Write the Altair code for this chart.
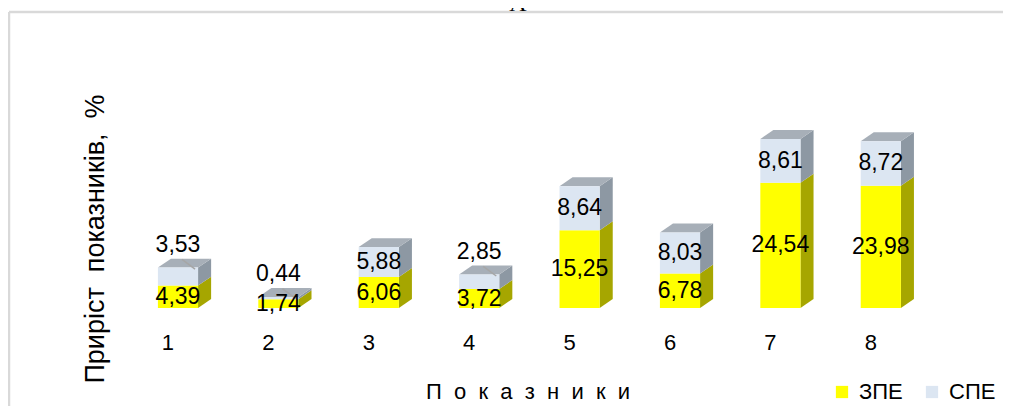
import altair as alt
import pandas as pd

categories = [1, 2, 3, 4, 5, 6, 7, 8]
zpe = [4.39, 1.74, 6.06, 3.72, 15.25, 6.78, 24.54, 23.98]
spe = [3.53, 0.44, 5.88, 2.85, 8.64, 8.03, 8.61, 8.72]
series_names = ["ЗПЕ", "СПЕ"]
cat_labels = ["1", "2", "3", "4", "5", "6", "7", "8"]
chart_title = "А"
NB = "\u00a0"
y_title = f"Приріст{NB}{NB}показників,{NB}{NB}%"
x_title = (NB + NB).join(list("Показники"))

FONT = "Liberation Sans"
W, H = 995, 398
HALF = 0.2      # half front width (x units)
DX = 0.13       # depth in x units
DY = 1.76       # depth in y units

df = pd.DataFrame({"cat": categories, "zpe": zpe, "spe": spe, "lab": cat_labels})

xs = alt.Scale(domain=[-0.693, 9.217], nice=False, zero=False)
ys = alt.Scale(domain=[-19.216, 58.824], nice=False, zero=False)

base = alt.Chart(df).transform_calculate(total="datum.zpe + datum.spe")

edges = base.transform_calculate(e0="0", e1="1").transform_fold(["e0", "e1"], as_=["edge", "t"])

side_y = edges.transform_calculate(
    sx=f"datum.cat + {HALF} + datum.t * {DX}",
    sy0=f"datum.t * {DY}",
    sy1=f"datum.zpe + datum.t * {DY}",
).mark_area(color="#a6a600", orient="vertical").encode(
    x=alt.X("sx:Q", scale=xs, axis=None),
    y=alt.Y("sy0:Q", scale=ys, axis=None),
    y2="sy1:Q",
    detail="cat:N",
)

side_b = edges.transform_calculate(
    sx=f"datum.cat + {HALF} + datum.t * {DX}",
    sy0=f"datum.zpe + datum.t * {DY}",
    sy1=f"datum.total + datum.t * {DY}",
).mark_area(color="#8d98a3", orient="vertical").encode(
    x=alt.X("sx:Q", scale=xs, axis=None),
    y=alt.Y("sy0:Q", scale=ys, axis=None),
    y2="sy1:Q",
    detail="cat:N",
)

top = edges.transform_calculate(
    ty=f"datum.total + datum.t * {DY}",
    tx0=f"datum.cat - {HALF} + datum.t * {DX}",
    tx1=f"datum.cat + {HALF} + datum.t * {DX}",
).mark_area(color="#a7afb8", orient="horizontal").encode(
    y=alt.Y("ty:Q", scale=ys, axis=None),
    x=alt.X("tx0:Q", scale=xs, axis=None),
    x2="tx1:Q",
    detail="cat:N",
)

front = base.transform_fold(["zpe", "spe"], as_=["key", "val"]).transform_calculate(
    series=f"datum.key == 'zpe' ? '{series_names[0]}' : '{series_names[1]}'",
    y0="datum.key == 'zpe' ? 0 : datum.zpe",
    y1="datum.key == 'zpe' ? datum.zpe : datum.zpe + datum.spe",
    xl=f"datum.cat - {HALF}",
    xr=f"datum.cat + {HALF}",
).mark_rect().encode(
    x=alt.X("xl:Q", scale=xs, axis=None),
    x2="xr:Q",
    y=alt.Y("y0:Q", scale=ys, axis=None),
    y2="y1:Q",
    color=alt.Color(
        "series:N",
        scale=alt.Scale(domain=series_names, range=["#ffff00", "#dce6f2"]),
        legend=alt.Legend(
            title=None, orient="none", legendX=823, legendY=373, direction="horizontal",
            symbolType="square", symbolSize=150, symbolStrokeWidth=0,
            labelFont=FONT, labelFontSize=22, labelColor="#000000",
            labelOffset=6, columnPadding=18, padding=0,
        ),
    ),
)

lab_fmt = "replace(format(datum.v, '.2f'), '.', ',')"

lab_z = base.transform_calculate(
    v="datum.zpe", ly="datum.zpe / 2", txt=lab_fmt
).mark_text(font=FONT, fontSize=23, color="#000000", baseline="middle").encode(
    x=alt.X("cat:Q", scale=xs, axis=None),
    y=alt.Y("ly:Q", scale=ys, axis=None),
    text="txt:N",
)

lab_s = base.transform_calculate(
    v="datum.spe",
    ly="datum.spe < 4 ? datum.total + 4.5 : datum.zpe + datum.spe / 2",
    txt=lab_fmt,
).mark_text(font=FONT, fontSize=23, color="#000000", baseline="middle").encode(
    x=alt.X("cat:Q", scale=xs, axis=None),
    y=alt.Y("ly:Q", scale=ys, axis=None),
    text="txt:N",
)

leader = base.transform_filter("datum.spe < 4").transform_calculate(
    lx0="datum.cat + 0.04", lx1="datum.cat + 0.17",
    ly0="datum.total + 1.6", ly1="datum.total - 0.3",
).mark_rule(color="#a6a6a6", strokeWidth=1.5).encode(
    x=alt.X("lx0:Q", scale=xs, axis=None), x2="lx1:Q",
    y=alt.Y("ly0:Q", scale=ys, axis=None), y2="ly1:Q",
)

cat_text = base.mark_text(font=FONT, fontSize=22, color="#000000", baseline="middle", dx=-10).encode(
    x=alt.X("cat:Q", scale=xs, axis=None),
    y=alt.value(335),
    text="lab:N",
)

one = alt.Chart(pd.DataFrame({"k": [0]}))

frame_top = one.mark_rule(color="#d9d9d9", strokeWidth=2.5).encode(
    x=alt.value(1), x2=alt.value(W), y=alt.value(4))
frame_left = one.mark_rule(color="#d9d9d9", strokeWidth=2.5).encode(
    x=alt.value(1), y=alt.value(4), y2=alt.value(H))

title_txt = one.mark_text(font="Liberation Serif", fontSize=24, color="#000000",
                          baseline="alphabetic", align="center").encode(
    x=alt.value(510), y=alt.value(3), text=alt.value(chart_title))

ytitle = one.mark_text(font=FONT, fontSize=27, color="#000000", angle=270,
                       baseline="middle", align="center").encode(
    x=alt.value(88), y=alt.value(231), text=alt.value(y_title))

xtitle = one.mark_text(font=FONT, fontSize=22, color="#000000",
                       baseline="middle", align="center").encode(
    x=alt.value(520), y=alt.value(384), text=alt.value(x_title))

chart = alt.layer(
    frame_top, frame_left, title_txt,
    side_y, side_b, top, front, leader, lab_z, lab_s,
    cat_text, ytitle, xtitle,
).properties(
    width=W, height=H, padding=0,
    autosize=alt.AutoSizeParams(type="none"),
).configure_view(strokeWidth=0)

chart.save("out.html", embed_options={"renderer": "svg", "actions": False})
